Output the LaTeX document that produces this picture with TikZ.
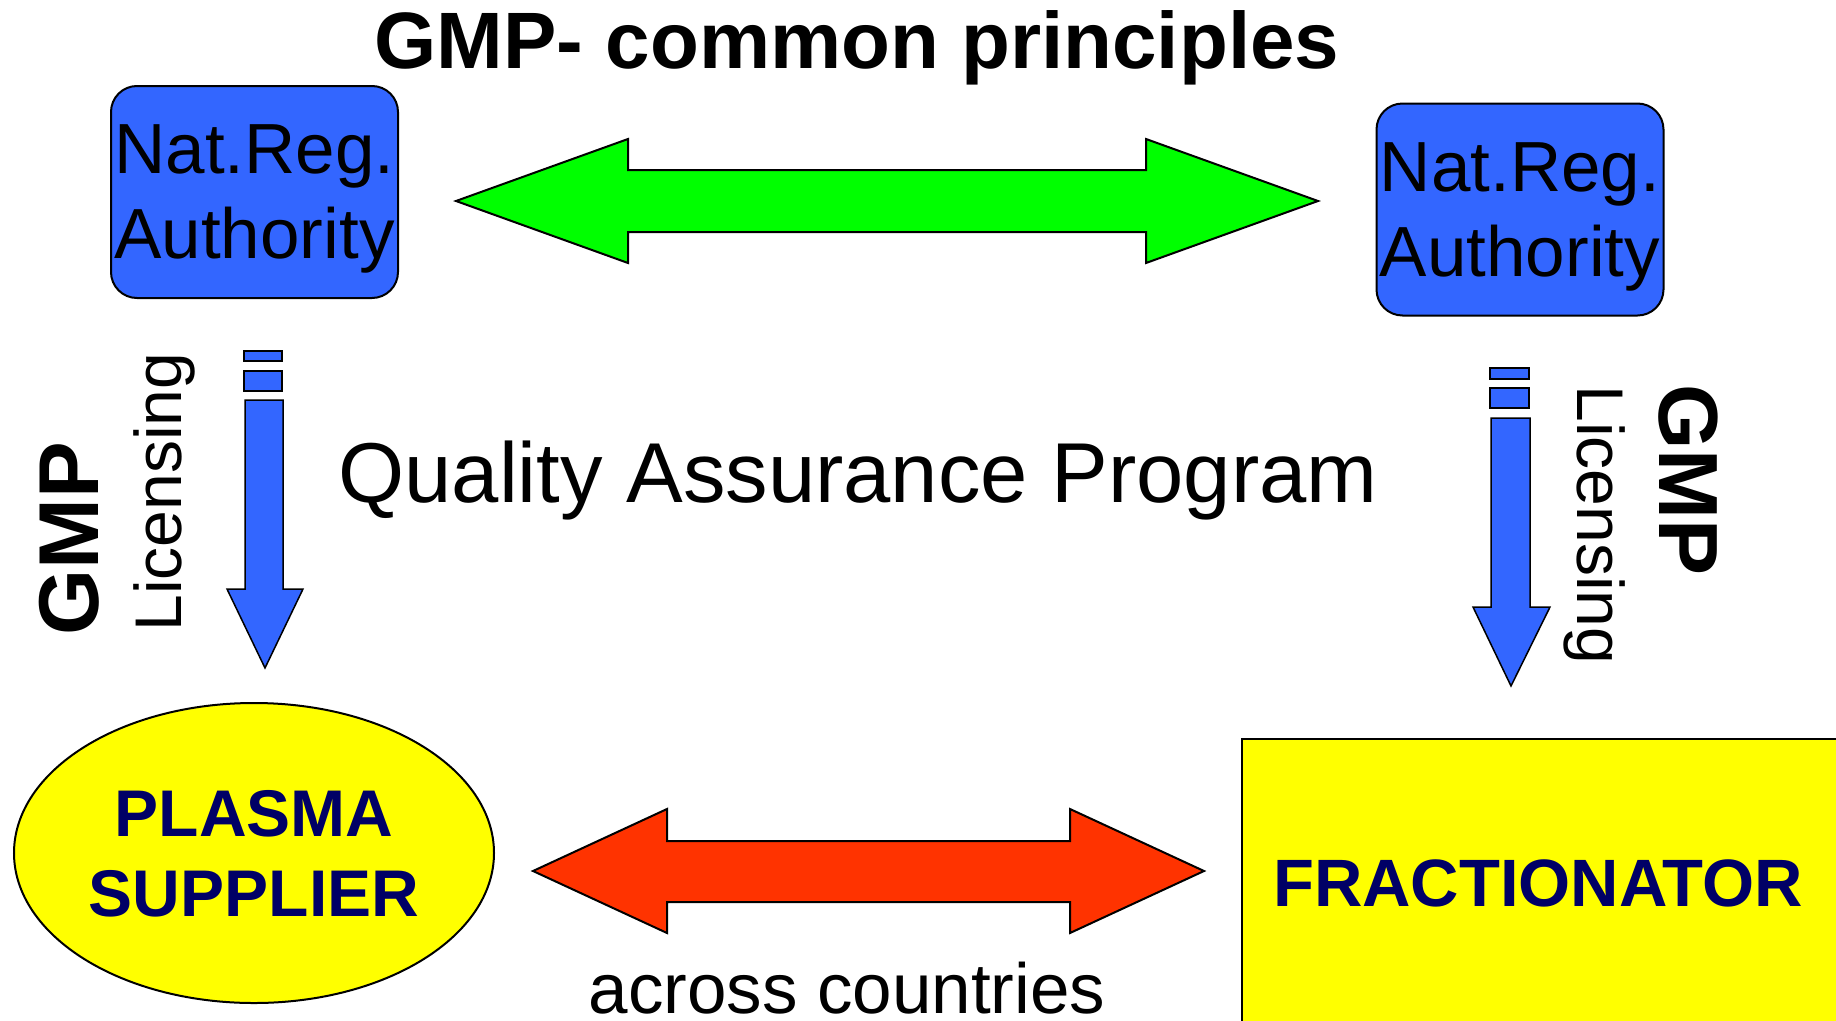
\documentclass[tikz,border=0pt]{standalone}
\usepackage{fontspec}
\setmainfont{Liberation Sans}
\usetikzlibrary{shapes,positioning}
\definecolor{nrablue}{RGB}{51,102,255}
\definecolor{navytext}{RGB}{0,0,102}
\definecolor{bargreen}{RGB}{0,255,0}
\definecolor{barred}{RGB}{255,51,0}
\definecolor{boxyellow}{RGB}{255,255,0}

\begin{document}
\begin{tikzpicture}[x=1pt,y=-1pt,
    authority/.style={draw=black, line width=2pt, fill=nrablue, rounded corners=26pt,
        minimum width=287pt, minimum height=212pt, inner sep=0pt, align=center,
        text depth=0pt, font=\fontsize{71}{85}\selectfont},
    partner/.style={draw=black, fill=boxyellow, text=navytext, inner sep=0pt,
        align=center, text depth=0pt, font=\bfseries\fontsize{66}{80}\selectfont},
    blockarrow/.style={draw=black, line width=2pt, line join=miter},
    licarrow/.style={draw=black, line width=1.5pt, fill=nrablue, line join=miter}]
    \useasboundingbox (0,0) rectangle (1836,1020);
    \fill[white] (0,0) rectangle (1836,1020);

    % heading and middle caption
    \node[anchor=base, font=\bfseries\fontsize{80}{80}\selectfont] (title) at (857,68) {GMP- common principles};
    \node[anchor=base, font=\fontsize{85}{85}\selectfont] (qap) at (858,502) {Quality Assurance Program};

    % the two authorities
    \node[authority] (nraL) at (254.5,192) {Nat.Reg.\\Authority};
    \node[authority] (nraR) at (1520,209.5) {Nat.Reg.\\Authority};

    % GMP principles shared between authorities
    \draw[blockarrow, fill=bargreen] (456,201) -- (628,139) -- (628,170) -- (1146,170) -- (1146,139)
        -- (1318,201) -- (1146,263) -- (1146,232) -- (628,232) -- (628,263) -- cycle;

    % licensing arrows
    \draw[licarrow] (244,351) rectangle (282,361);
    \draw[licarrow] (244,371) rectangle (282,391);
    \draw[licarrow] (245,400) -- (283,400) -- (283,589) -- (303,589) -- (265,668) -- (227,589) -- (245,589) -- cycle;
    \draw[licarrow] (1490,368) rectangle (1529,379);
    \draw[licarrow] (1490,388) rectangle (1529,408);
    \draw[licarrow] (1491,418) -- (1530,418) -- (1530,607) -- (1550,607) -- (1511,686) -- (1473,607) -- (1491,607) -- cycle;

    \node[rotate=90, font=\bfseries\fontsize{85}{85}\selectfont] (gmpL) at (69,539) {GMP};
    \node[rotate=90, anchor=base, font=\fontsize{66}{66}\selectfont] (licL) at (181,492) {Licensing};
    \node[rotate=-90, anchor=base, font=\fontsize{66}{66}\selectfont] (licR) at (1577,525) {Licensing};
    \node[rotate=-90, font=\bfseries\fontsize{84}{84}\selectfont] (gmpR) at (1688,480) {GMP};

    % plasma supplier and fractionator
    \node[partner, ellipse, line width=2pt, minimum width=480pt, minimum height=300pt] (plasma) at (254,853) {PLASMA\\SUPPLIER};
    \node[partner, rectangle, line width=1.5pt, minimum width=602pt, minimum height=288pt] (fract) at (1543,883) {};
    \node[text=navytext, font=\bfseries\fontsize{67}{67}\selectfont, anchor=base, inner sep=0pt] (fractlabel) at (1538,906) {FRACTIONATOR};

    \draw[blockarrow, fill=barred] (533,871) -- (667,809) -- (667,841) -- (1070,841) -- (1070,809)
        -- (1204,871) -- (1070,933) -- (1070,902) -- (667,902) -- (667,933) -- cycle;
    \node[anchor=base, inner sep=0pt, font=\fontsize{71}{71}\selectfont] (across) at (847,1013) {across countries};
\end{tikzpicture}
\end{document}
